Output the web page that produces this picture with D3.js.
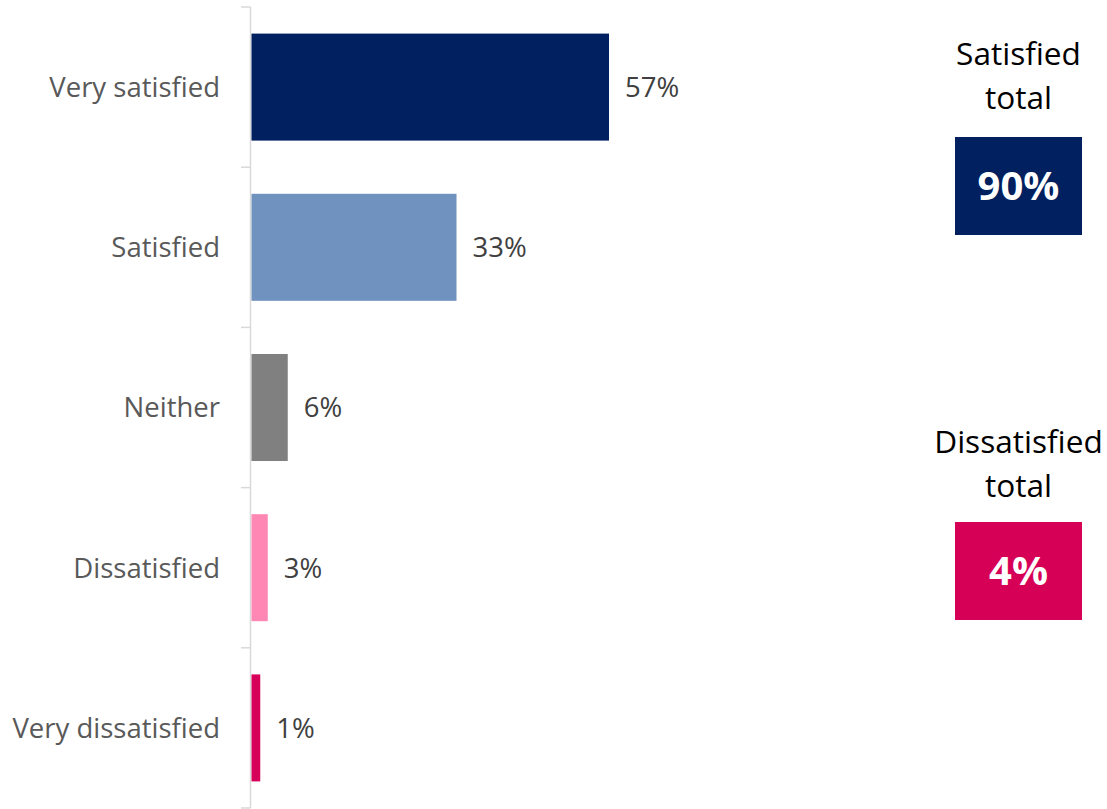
<!DOCTYPE html>
<html>
<head>
<meta charset="utf-8">
<script src="https://cdn.jsdelivr.net/npm/d3@7"></script>
<style>
  html, body { margin: 0; padding: 0; background: #fff; }
  svg { display: block; }
  text { font-family: "Open Sans", sans-serif; }
</style>
</head>
<body>
<svg id="chart" width="1107" height="809"></svg>
<script>
// ---- data ----
const categories = ["Very satisfied", "Satisfied", "Neither", "Dissatisfied", "Very dissatisfied"];
const values = [57.2, 32.8, 5.8, 2.6, 1.4];
const barColors = ["#002060", "#7092BE", "#808080", "#FF87B4", "#D6005A"];
const totalTitles = [["Satisfied", "total"], ["Dissatisfied", "total"]];
const totalValues = [90, 4];
const totalColors = ["#002060", "#D60057"];

// ---- layout ----
const svg = d3.select("#chart");
const x = d3.scaleLinear().domain([0, 100]).range([251.5, 876.5]);
const y = d3.scaleBand().domain(categories).range([7, 808]).paddingInner(0.332).paddingOuter(0.166);

const axisX = 250.5;
const step = y.step();
const boundaries = categories.map(c => y(c) - y.paddingOuter() * step);
boundaries.push(808);

// axis line
svg.append("line")
  .attr("x1", axisX).attr("x2", axisX)
  .attr("y1", 7).attr("y2", 808)
  .attr("stroke", "#D9D9D9").attr("stroke-width", 1.5);
// ticks at category boundaries
svg.selectAll(".tick").data(boundaries).join("line")
  .attr("class", "tick")
  .attr("x1", 241).attr("x2", axisX)
  .attr("y1", d => d).attr("y2", d => d)
  .attr("stroke", "#D9D9D9").attr("stroke-width", 1.5);

// category labels
svg.selectAll(".cat").data(categories).join("text")
  .attr("class", "cat")
  .attr("x", 220)
  .attr("y", d => y(d) + y.bandwidth() / 2)
  .attr("dy", "0.36em")
  .attr("text-anchor", "end")
  .attr("font-size", 27.5)
  .attr("fill", "#595959")
  .text(d => d);

// bars
svg.selectAll(".bar").data(values).join("rect")
  .attr("class", "bar")
  .attr("x", x(0))
  .attr("y", (d, i) => y(categories[i]))
  .attr("width", d => x(d) - x(0))
  .attr("height", y.bandwidth())
  .attr("fill", (d, i) => barColors[i]);

// value labels
svg.selectAll(".val").data(values).join("text")
  .attr("class", "val")
  .attr("x", d => x(d) + 16)
  .attr("y", (d, i) => y(categories[i]) + y.bandwidth() / 2)
  .attr("dy", "0.36em")
  .attr("font-size", 27.5)
  .attr("fill", "#404040")
  .text(d => Math.round(d) + "%");

// totals panel
const cx = 1018.5;
const panelTop = [65, 453];
const boxTop = [137, 522];
totalTitles.forEach((lines, i) => {
  const g = svg.append("g");
  lines.forEach((t, j) => {
    g.append("text")
      .attr("x", cx)
      .attr("y", panelTop[i] + j * 44)
      .attr("text-anchor", "middle")
      .attr("font-size", 31.6)
      .attr("fill", "#000")
      .text(t);
  });
  g.append("rect")
    .attr("x", 955).attr("y", boxTop[i])
    .attr("width", 127).attr("height", 98)
    .attr("fill", totalColors[i]);
  g.append("text")
    .attr("x", cx)
    .attr("y", boxTop[i] + 49)
    .attr("dy", "0.36em")
    .attr("text-anchor", "middle")
    .attr("font-size", 40)
    .attr("font-weight", "bold")
    .attr("fill", "#fff")
    .text(totalValues[i] + "%");
});
</script>
</body>
</html>
